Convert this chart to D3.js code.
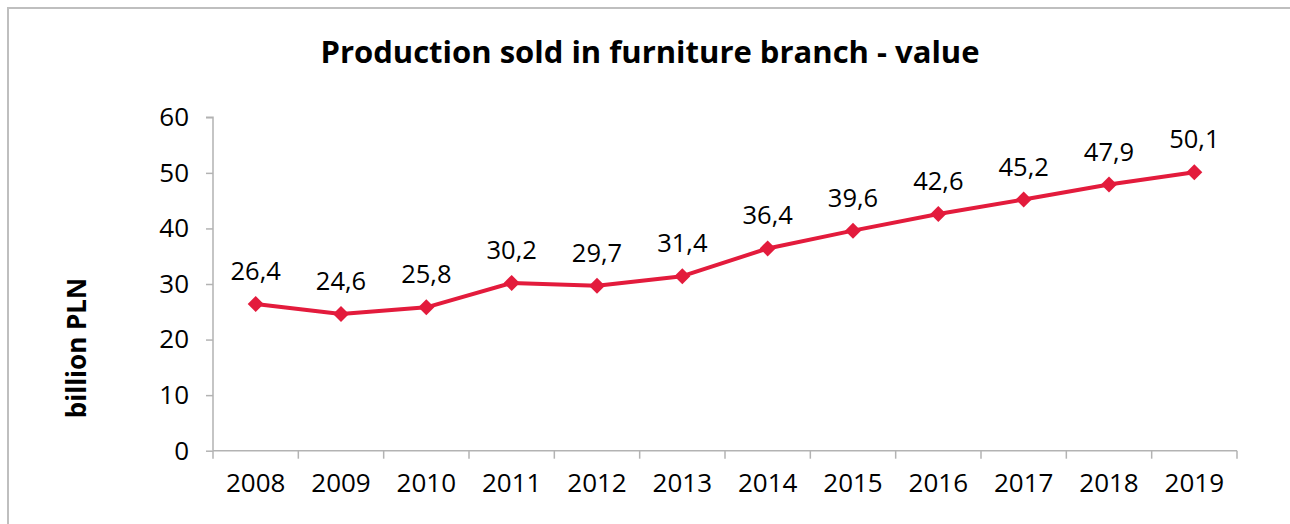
<!DOCTYPE html>
<html>
<head>
<meta charset="utf-8">
<script src="https://cdn.jsdelivr.net/npm/d3@7"></script>
<style>
  html, body { margin: 0; padding: 0; background: #fff; }
  svg { display: block; }
</style>
</head>
<body>
<svg id="chart" width="1290" height="524"></svg>
<script>
const years = ["2008","2009","2010","2011","2012","2013","2014","2015","2016","2017","2018","2019"];
const values = [26.4, 24.6, 25.8, 30.2, 29.7, 31.4, 36.4, 39.6, 42.6, 45.2, 47.9, 50.1];
const yTicks = [0, 10, 20, 30, 40, 50, 60];
const title = "Production sold in furniture branch - value";
const yLabel = "billion PLN";

const svg = d3.select("#chart");
const font = "'Open Sans', 'Noto Sans', sans-serif";

// outer border
svg.append("rect")
  .attr("x", 8).attr("y", 8)
  .attr("width", 1290).attr("height", 530)
  .attr("fill", "none").attr("stroke", "#bfbfbf").attr("stroke-width", 2);

const pLeft = 213, pRight = 1237, pTop = 117.3, pBottom = 450.7;

const x = d3.scaleBand().domain(years).range([pLeft, pRight]);
const y = d3.scaleLinear().domain([0, 60]).range([pBottom, pTop]);

// title
svg.append("text")
  .attr("x", 650).attr("y", 63)
  .attr("text-anchor", "middle")
  .attr("font-family", font).attr("font-weight", "bold")
  .attr("font-size", 31).attr("fill", "#000")
  .text(title);

// y label
svg.append("text")
  .attr("transform", `translate(86, 348) rotate(-90)`)
  .attr("text-anchor", "middle")
  .attr("font-family", font).attr("font-weight", "bold")
  .attr("font-size", 26).attr("fill", "#000")
  .text(yLabel);

// y axis
const yAxis = svg.append("g")
  .attr("transform", `translate(${pLeft},0)`)
  .call(d3.axisLeft(y).tickValues(yTicks).tickSize(7).tickPadding(17).tickFormat(d3.format("d")));
yAxis.selectAll("path, line").attr("stroke", "#b3b3b3").attr("stroke-width", 1.5);
yAxis.select(".domain").attr("d", `M-7,${pTop}H0V${pBottom}`);
yAxis.selectAll("text").attr("font-family", font).attr("font-size", 26).attr("fill", "#000");

// x axis
const xAxis = svg.append("g")
  .attr("transform", `translate(0,${pBottom})`)
  .call(d3.axisBottom(x).tickSize(0).tickPadding(23));
xAxis.select(".domain").attr("stroke", "#b3b3b3").attr("stroke-width", 1.5)
  .attr("d", `M${pLeft},0H${pRight}`);
xAxis.selectAll("text").attr("font-family", font).attr("font-size", 26).attr("fill", "#000");
// boundary ticks
const bounds = years.map(d => x(d)).concat([pRight]);
xAxis.selectAll(".bt").data(bounds).enter().append("line")
  .attr("x1", d => d).attr("x2", d => d)
  .attr("y1", 0).attr("y2", 8)
  .attr("stroke", "#b3b3b3").attr("stroke-width", 1.5);

const color = "#e31b3c";
const cx = d => x(d) + x.bandwidth() / 2;

svg.append("path")
  .datum(values)
  .attr("fill", "none").attr("stroke", color).attr("stroke-width", 4)
  .attr("stroke-linejoin", "round")
  .attr("d", d3.line().x((d, i) => cx(years[i])).y(d => y(d)));

svg.selectAll(".mk").data(values).enter().append("path")
  .attr("transform", (d, i) => `translate(${cx(years[i])},${y(d)})`)
  .attr("d", "M0,-8L8,0L0,8L-8,0Z")
  .attr("fill", color);

svg.selectAll(".lbl").data(values).enter().append("text")
  .attr("x", (d, i) => cx(years[i]))
  .attr("y", d => y(d) - 24)
  .attr("text-anchor", "middle")
  .attr("font-family", font).attr("font-size", 25.5).attr("fill", "#000")
  .text(d => d.toFixed(1).replace(".", ","));
</script>
</body>
</html>
